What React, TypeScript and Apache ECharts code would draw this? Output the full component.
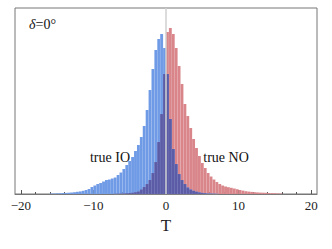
import React, { useEffect, useRef } from "react";
import * as echarts from "echarts";

const binStart = -16;
const binWidth = 0.4;
// histogram heights (arbitrary units), bins of width 0.4 from -16 to 16
const trueIO = [
  0.5, 0.5, 0.7, 0.8, 1.0, 1.1, 1.3, 1.5, 1.8, 2.2,
  2.6, 3.2, 4.0, 5.0, 7.0, 8.5, 10, 11, 12.5, 14,
  14.5, 15.5, 16.5, 19, 21.5, 25, 29, 33, 37, 43,
  49, 57, 68, 84, 104, 125, 144, 155, 160, 146,
  120, 75, 45, 30, 20, 14, 10, 6.5, 4.5, 3.2,
  2.3, 1.6, 1.1, 0.8, 0.5, 0.4, 0.3, 0.2, 0, 0,
  0, 0, 0, 0, 0, 0, 0, 0, 0, 0,
  0, 0, 0, 0, 0, 0, 0, 0, 0, 0,
];
const trueNO = [
  0, 0, 0, 0, 0, 0, 0, 0, 0, 0,
  0, 0, 0, 0, 0, 0, 0, 0, 0, 0,
  0, 0, 0.3, 0.4, 0.5, 0.6, 0.8, 1.0, 1.3, 1.8,
  2.5, 4.5, 7, 10, 14, 21, 32, 52, 80, 120,
  162, 166, 160, 146, 128, 110, 90, 78, 66, 55,
  46, 38, 31, 26, 21, 17.5, 14.5, 12, 10, 8.5,
  7.5, 6.8, 6.2, 5.5, 4.8, 4.0, 3.4, 2.8, 2.4, 2.1,
  1.8, 1.6, 1.4, 1.3, 1.2, 1.0, 0.9, 0.8, 0.6, 0.5,
];
const majorTicks = [-20, -10, 0, 10, 20];
const minorTicks = [-18, -16, -14, -12, -8, -6, -4, -2, 2, 4, 6, 8, 12, 14, 16, 18];

const toBins = (vals: number[]) =>
  vals.map((h, i) => [binStart + i * binWidth, binStart + (i + 1) * binWidth, h]);

const overlap = trueIO.map((v, i) => Math.min(v, trueNO[i]));

const SERIF = "Liberation Serif";

function histSeries(name: string, vals: number[], color: string, z: number) {
  return {
    type: "custom",
    name,
    xAxisIndex: 0,
    yAxisIndex: 0,
    z,
    encode: { x: [0, 1], y: 2 },
    data: toBins(vals),
    renderItem: (params: any, api: any) => {
      const x0 = api.value(0);
      const x1 = api.value(1);
      const h = api.value(2);
      if (!(h > 0)) return null;
      const p0 = api.coord([x0, h]);
      const p1 = api.coord([x1, 0]);
      return {
        type: "rect",
        shape: { x: p0[0], y: p0[1], width: p1[0] - p0[0], height: p1[1] - p0[1] },
        style: { fill: color, stroke: "rgba(255,255,255,0.18)", lineWidth: 0.3 },
      };
    },
  };
}

export default function App() {
  const ref = useRef<HTMLDivElement>(null);
  useEffect(() => {
    document.body.style.margin = "0";
    const chart = echarts.init(ref.current!, null, { renderer: "svg" });
    chart.setOption({
      animation: false,
      textStyle: { fontFamily: SERIF },
      grid: {
        left: 15,
        right: 15,
        top: 8,
        bottom: 55,
        show: true,
        borderColor: "#777",
        borderWidth: 1,
        backgroundColor: "#fff",
      },
      xAxis: [
        {
          type: "value",
          min: -20.8,
          max: 20.8,
          position: "bottom",
          splitLine: { show: false },
          axisLine: { show: true, lineStyle: { color: "#777", width: 1 } },
          axisTick: {
            show: true,
            inside: true,
            length: 4,
            customValues: majorTicks,
            lineStyle: { color: "#555" },
          },
          axisLabel: {
            customValues: majorTicks,
            margin: 5,
            color: "#222",
            fontFamily: SERIF,
            fontSize: 13,
            formatter: (v: number) => (v < 0 ? "\u2212" + Math.abs(v) : String(v)),
          },
          name: "T",
          nameLocation: "middle",
          nameGap: 23,
          nameTextStyle: { fontFamily: SERIF, fontSize: 17, color: "#222" },
        },
        {
          type: "value",
          min: -20.8,
          max: 20.8,
          position: "bottom",
          splitLine: { show: false },
          axisLine: { show: false },
          axisTick: {
            show: true,
            inside: true,
            length: 2,
            customValues: minorTicks,
            lineStyle: { color: "#555" },
          },
          axisLabel: { show: false },
        },
      ],
      yAxis: {
        type: "value",
        min: 0,
        max: 186,
        axisLine: { show: false },
        axisTick: { show: false },
        axisLabel: { show: false },
        splitLine: { show: false },
      },
      series: [
        {
          type: "line",
          data: [],
          markLine: {
            silent: true,
            symbol: "none",
            label: { show: false },
            lineStyle: { color: "#d0d0d0", width: 1.5, type: "solid" },
            data: [{ xAxis: 0 }],
          },
          z: 1,
        },
        histSeries("true NO", trueNO, "#d9858a", 2),
        histSeries("true IO", trueIO, "#6e9ae6", 3),
        histSeries("overlap", overlap, "#5b5ba6", 4),
      ],
      graphic: [
        {
          type: "text",
          left: 29,
          top: 17,
          style: {
            text: "{i|δ}=0°",
            font: "14px Liberation Serif",
            fill: "#111",
            rich: { i: { fontStyle: "italic", fontFamily: SERIF, fontSize: 14, fill: "#111" } },
          },
        },
        {
          type: "text",
          x: 110,
          y: 157,
          style: {
            text: "true IO",
            font: "14px Liberation Serif",
            fill: "#111",
            align: "center",
            verticalAlign: "middle",
          },
          z: 10,
        },
        {
          type: "text",
          x: 226,
          y: 157,
          style: {
            text: "true NO",
            font: "14px Liberation Serif",
            fill: "#111",
            align: "center",
            verticalAlign: "middle",
          },
          z: 10,
        },
      ],
    });
    return () => chart.dispose();
  }, []);
  return <div ref={ref} style={{ width: 332, height: 249 }} />;
}
